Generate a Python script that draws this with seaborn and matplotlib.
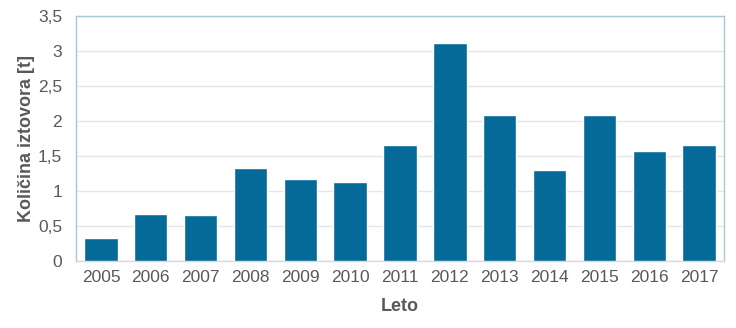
import matplotlib
matplotlib.use("Agg")
import matplotlib.pyplot as plt
import seaborn as sns
import pandas as pd

years = ["2005", "2006", "2007", "2008", "2009", "2010", "2011",
         "2012", "2013", "2014", "2015", "2016", "2017"]
values = [0.32, 0.67, 0.66, 1.32, 1.17, 1.12, 1.66, 3.12, 2.08, 1.30, 2.09, 1.565, 1.66]
yticks = [0, 0.5, 1, 1.5, 2, 2.5, 3, 3.5]
ytick_labels = ["0", "0,5", "1", "1,5", "2", "2,5", "3", "3,5"]

sns.set_theme(style="white")
plt.rcParams['font.family'] = ['Liberation Sans', 'DejaVu Sans']

df = pd.DataFrame({"Leto": years, "Kolicina": values})

fig = plt.figure(figsize=(7.36, 3.28), dpi=100)
ax = fig.add_axes([0.1033, 0.2052, 0.8804, 0.7458])

sns.barplot(data=df, x="Leto", y="Kolicina", color="#066a99", saturation=1,
            width=0.67, ax=ax, zorder=3)

ax.set_ylim(0, 3.5)
ax.set_xlim(-0.5, len(years) - 0.5)
ax.set_yticks(yticks)
ax.set_yticklabels(ytick_labels)
ax.yaxis.grid(True, color="#e6e6e6", linewidth=1.0, zorder=0)
ax.set_axisbelow(True)

tc = "#595959"
ax.tick_params(axis="both", length=0, labelsize=12.5, colors=tc)
ax.tick_params(axis="y", pad=10)
ax.tick_params(axis="x", pad=7)

ax.set_xlabel("Leto", fontsize=13, fontweight="bold", color=tc, labelpad=9)
ax.set_ylabel("Količina iztovora [t]", fontsize=13, fontweight="bold", color=tc)
ax.yaxis.set_label_coords(-0.064, 0.5)

for side in ["left", "top", "right"]:
    ax.spines[side].set_color("#a5c8d4")
    ax.spines[side].set_linewidth(1.0)
ax.spines["bottom"].set_color("#d9d9d9")
ax.spines["bottom"].set_linewidth(1.0)

fig.savefig("out.png", dpi=100, facecolor="white")
